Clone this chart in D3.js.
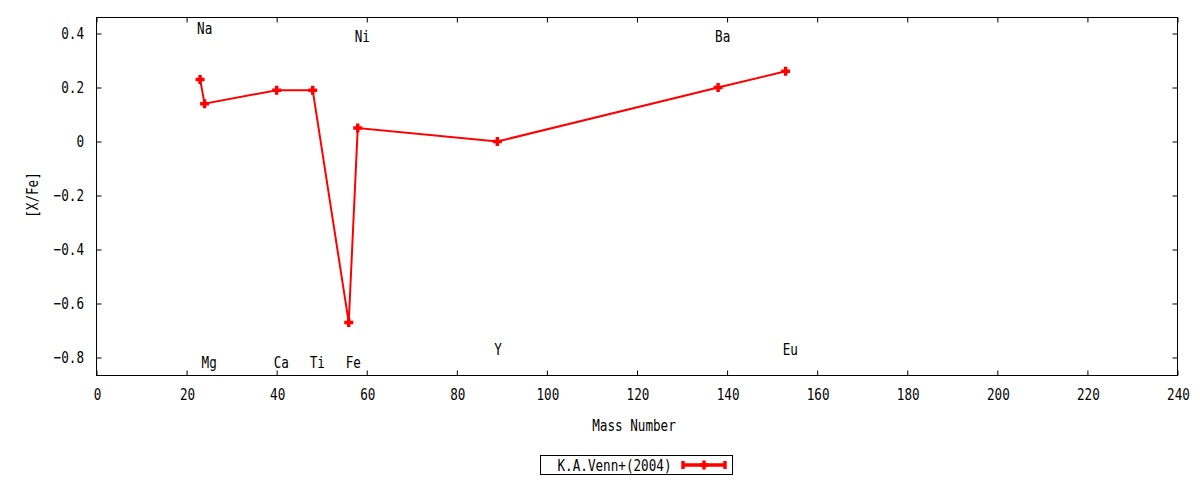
<!DOCTYPE html>
<html>
<head>
<meta charset="utf-8">
<script src="https://cdn.jsdelivr.net/npm/d3@7"></script>
<style>
  body { margin: 0; background: #fff; }
  svg { display: block; }
</style>
</head>
<body>
<svg id="chart" width="1200" height="480"></svg>
<script>
// Data
const elements = ["Na", "Mg", "Ca", "Ti", "Fe", "Ni", "Y", "Ba", "Eu"];
const massNumbers = [23, 24, 40, 48, 56, 58, 89, 138, 153];
const xFe = [0.23, 0.14, 0.19, 0.19, -0.67, 0.05, 0.0, 0.20, 0.26];
const labelY = [0.42, -0.82, -0.82, -0.82, -0.82, 0.39, -0.77, 0.39, -0.77];
const xTicks = [0, 20, 40, 60, 80, 100, 120, 140, 160, 180, 200, 220, 240];
const yTicks = [0.4, 0.2, 0, -0.2, -0.4, -0.6, -0.8];
const seriesName = "K.A.Venn+(2004)";

const svg = d3.select("#chart");
const plot = { left: 96.5, right: 1177.5, top: 17.5, bottom: 375.5 };
const red = "#ff0000";

const x = d3.scaleLinear().domain([0, 240]).range([plot.left, plot.right]);
const y = d3.scaleLinear().domain([-0.8667, 0.4593]).range([plot.bottom, plot.top]);

// gnuplot-like narrow monospace text
function label(parent, str, px, py, anchor, rotate) {
    const g = parent.append("g")
        .attr("transform", `translate(${px},${py})${rotate ? ` rotate(${rotate})` : ""} scale(0.79,1)`);
    g.append("text")
        .attr("text-anchor", anchor)
        .attr("dominant-baseline", "central")
        .attr("font-family", "DejaVu Sans Mono")
        .attr("font-size", 16)
        .attr("fill", "#000")
        .text(str);
    return g;
}

// Axes with ticks on all four sides
const tickLen = 5;
const axisB = svg.append("g").attr("transform", `translate(0,${plot.bottom})`)
    .call(d3.axisBottom(x).tickValues(xTicks).tickSizeInner(-tickLen).tickSizeOuter(0).tickFormat(""));
const axisT = svg.append("g").attr("transform", `translate(0,${plot.top})`)
    .call(d3.axisTop(x).tickValues(xTicks).tickSizeInner(-tickLen).tickSizeOuter(0).tickFormat(""));
const axisL = svg.append("g").attr("transform", `translate(${plot.left},0)`)
    .call(d3.axisLeft(y).tickValues(yTicks).tickSizeInner(-tickLen).tickSizeOuter(0).tickFormat(""));
const axisR = svg.append("g").attr("transform", `translate(${plot.right},0)`)
    .call(d3.axisRight(y).tickValues(yTicks).tickSizeInner(-tickLen).tickSizeOuter(0).tickFormat(""));
[axisB, axisT, axisL, axisR].forEach(a => {
    a.select(".domain").remove();
    a.selectAll("line").attr("stroke", "#000").attr("stroke-width", 1);
});

svg.append("rect")
    .attr("x", plot.left).attr("y", plot.top)
    .attr("width", plot.right - plot.left).attr("height", plot.bottom - plot.top)
    .attr("fill", "none").attr("stroke", "#000").attr("stroke-width", 1);

// Tick labels
xTicks.forEach(t => label(svg, String(t), x(t) + 1, 394.5, "middle"));
yTicks.forEach(t => label(svg, t === 0 ? "0" : d3.format(".1f")(t), 84, y(t), "end"));

// Axis titles
label(svg, "Mass Number", 634, 425, "middle");
label(svg, "[X/Fe]", 32, 195, "middle", -90);

// Element labels (left-justified at the mass number)
elements.forEach((el, i) => label(svg, el, x(massNumbers[i]) - 3, y(labelY[i]), "start"));

// Data line
const data = massNumbers.map((m, i) => ({ m, v: xFe[i] }));
const line = d3.line().x(d => x(d.m)).y(d => y(d.v));
svg.append("path")
    .datum(data)
    .attr("d", line)
    .attr("fill", "none")
    .attr("stroke", red)
    .attr("stroke-width", 2);

function plus(parent, cx, cy, r) {
    parent.append("path")
        .attr("d", `M${cx - r},${cy}H${cx + r}M${cx},${cy - r}V${cy + r}`)
        .attr("stroke", red)
        .attr("stroke-width", 3.5)
        .attr("fill", "none");
}
data.forEach(d => plus(svg, x(d.m), y(d.v), 4.5));

// Legend
svg.append("rect")
    .attr("x", 540.5).attr("y", 455.5).attr("width", 192).attr("height", 19)
    .attr("fill", "#fff").attr("stroke", "#000").attr("stroke-width", 1);
label(svg, seriesName, 614.5, 465, "middle");
const lg = svg.append("g");
lg.append("path")
    .attr("d", "M683,465H725M683,461V469M725,461V469")
    .attr("stroke", red).attr("stroke-width", 3.5).attr("fill", "none");
plus(lg, 704, 465, 4.5);
</script>
</body>
</html>
